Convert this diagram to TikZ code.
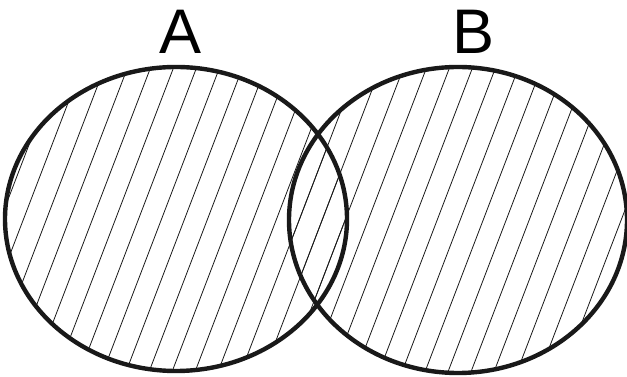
\documentclass[tikz,border=0pt]{standalone}
\usepackage{fontspec}
\setmainfont{Liberation Sans}
\usepackage{tikz}
\usetikzlibrary{positioning}

\begin{document}
\begin{tikzpicture}[x=1pt, y=1pt,
    setborder/.style={draw=black!90, line width=4.4pt},
    hatchline/.style={draw=black!90, line width=0.8pt},
    setlabel/.style={font=\fontsize{63}{63}\selectfont, inner sep=0pt, anchor=base}]

    \useasboundingbox (0,0) rectangle (627,377);

    % centres of the two sets
    \coordinate (ca) at (176,158);
    \coordinate (cb) at (458,157);

    % hatching of A
    \begin{scope}
        \clip (ca) ellipse [x radius=171, y radius=152];
        \foreach \x in {-221,-198,...,630}
            \draw [hatchline] (\x,0) -- (\x+144.5,377);
    \end{scope}
    % hatching of B
    \begin{scope}
        \clip (cb) ellipse [x radius=169, y radius=153];
        \foreach \x in {-221,-198,...,630}
            \draw [hatchline] (\x,0) -- (\x+144.5,377);
    \end{scope}

    \draw [setborder] (ca) ellipse [x radius=171, y radius=152];
    \draw [setborder] (cb) ellipse [x radius=169, y radius=153];

    \node [setlabel] (labela) at (180.5,323) {A};
    \node [setlabel] (labelb) at (474,323) {B};
\end{tikzpicture}
\end{document}
